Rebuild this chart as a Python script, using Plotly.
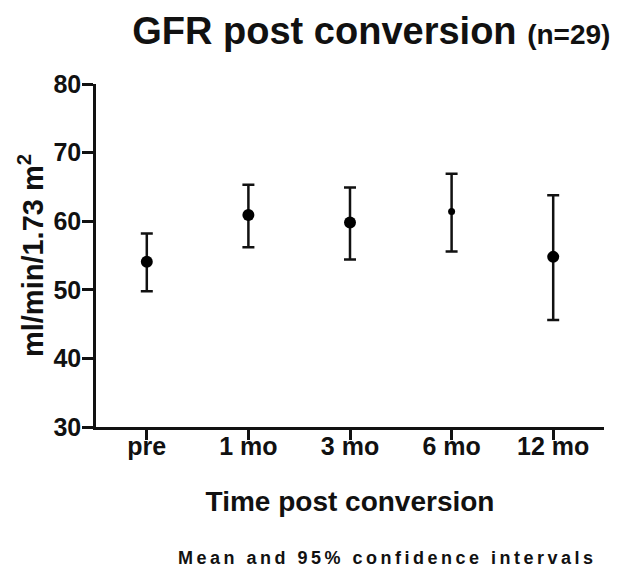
import plotly.graph_objects as go

categories = ["pre", "1 mo", "3 mo", "6 mo", "12 mo"]
means = [54.1, 60.9, 59.8, 61.4, 54.8]
ci_upper = [58.2, 65.3, 64.9, 66.9, 63.8]
ci_lower = [49.8, 56.2, 54.4, 55.6, 45.6]
marker_sizes = [12, 12, 12, 7, 12]
y_ticks = [30, 40, 50, 60, 70, 80]

err_plus = [u - m for u, m in zip(ci_upper, means)]
err_minus = [m - l for m, l in zip(means, ci_lower)]

FONT = "Liberation Sans, Arial, Helvetica, sans-serif"
INK = "#000000"

fig = go.Figure()
fig.add_trace(go.Scatter(
    x=list(range(len(categories))),
    y=means,
    mode="markers",
    opacity=1,
    marker=dict(color=INK, size=marker_sizes, opacity=1, line=dict(width=0)),
    error_y=dict(type="data", symmetric=False, array=err_plus, arrayminus=err_minus,
                 color="#111111", thickness=2.5, width=6),
    showlegend=False,
))

fig.update_layout(
    width=633, height=568,
    paper_bgcolor="white", plot_bgcolor="white",
    margin=dict(l=88, r=37, t=76, b=149),
    font=dict(family=FONT, color="#111111"),
    title=dict(
        text="<b>GFR post conversion</b> <b><span style='font-size:28px'>(n=29)</span></b>",
        xref="container", yref="container",
        x=0.574, xanchor="center", y=0.9595, yanchor="middle",
        font=dict(size=38, family=FONT, color="#111111"),
    ),
    xaxis=dict(
        range=[-0.5, 4.5],
        tickmode="array",
        tickvals=list(range(len(categories))),
        ticktext=["<b>%s</b>" % c for c in categories],
        tickfont=dict(size=25, family=FONT, color="#111111"),
        showline=True, linewidth=2.5, linecolor="#111111",
        ticks="outside", ticklen=10, tickwidth=2.5, tickcolor="#111111",
        ticklabelstandoff=-15,
        showgrid=False, zeroline=False,
        title=dict(text="<b>Time post conversion</b>", font=dict(size=28, family=FONT), standoff=33),
    ),
    yaxis=dict(
        range=[30, 80],
        tickmode="array",
        tickvals=y_ticks,
        ticktext=["<b>%d</b>" % v for v in y_ticks],
        tickfont=dict(size=25, family=FONT, color="#111111"),
        showline=True, linewidth=2.5, linecolor="#111111",
        ticks="outside", ticklen=11, tickwidth=2.5, tickcolor="#111111",
        ticklabelstandoff=-4,
        showgrid=False, zeroline=False,
        title=dict(text="<b>ml/min/1.73 m<sup>2</sup></b>", font=dict(size=29, family=FONT), standoff=2),
    ),
)

fig.add_annotation(
    text="<span style='letter-spacing:3.5px;font-weight:bold'>Mean and 95% confidence intervals</span>",
    xref="paper", yref="paper", x=0.573, y=-0.382, xanchor="center", yanchor="middle",
    showarrow=False, font=dict(size=18, family=FONT, color="#111111", weight="bold"),
)

fig.write_html("out.html")
